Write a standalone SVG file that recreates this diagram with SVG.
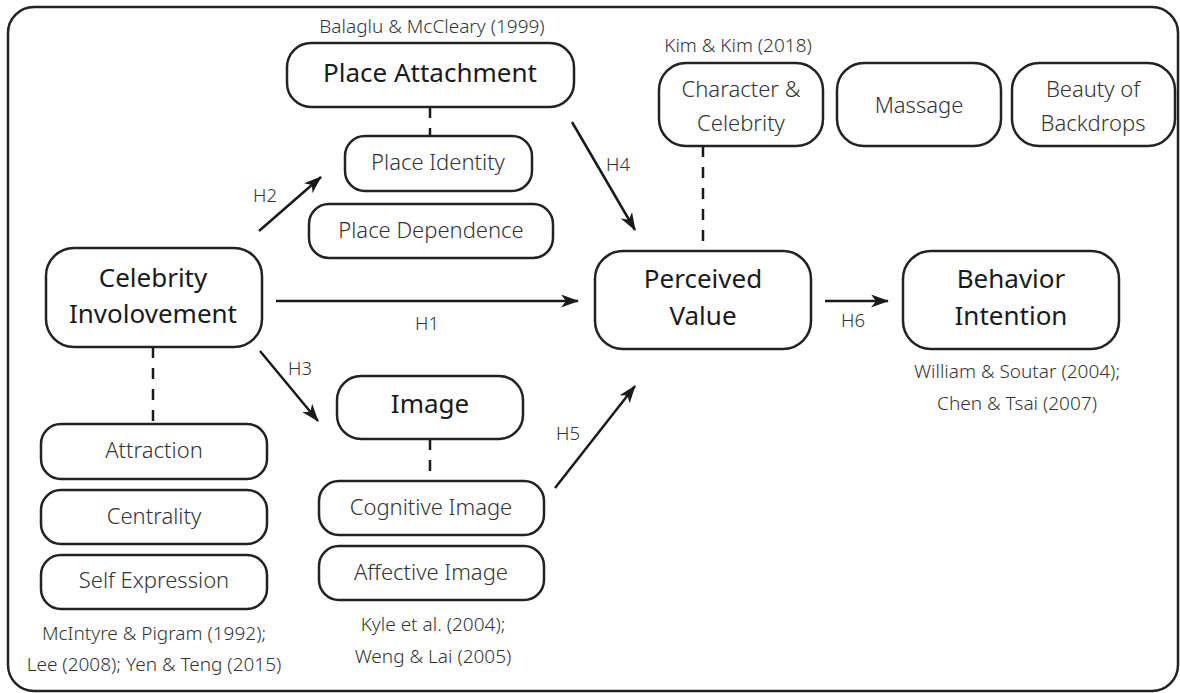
<svg xmlns="http://www.w3.org/2000/svg" width="1180" height="693" viewBox="0 0 1180 693">
<style>
.box{fill:#fff;stroke:#222;stroke-width:2.5}
.frame{fill:#fff;stroke:#222;stroke-width:2.5}
.title{font-family:"Noto Sans","Open Sans",sans-serif;font-size:26px;font-weight:450;fill:#1a1a1a;text-anchor:middle}
.label{font-family:"Noto Sans","Open Sans",sans-serif;font-size:22px;font-weight:300;fill:#333;text-anchor:middle}
.cite{font-family:"Noto Sans","Open Sans",sans-serif;font-size:19px;font-weight:300;fill:#333;text-anchor:middle}
.h{font-family:"Noto Sans","Open Sans",sans-serif;font-size:18.5px;font-weight:300;fill:#333;text-anchor:middle}
.arrow{stroke:#1a1a1a;stroke-width:2.5;fill:none;marker-end:url(#ah)}
.dash{stroke:#1a1a1a;stroke-width:2.5;fill:none;stroke-dasharray:11 10}
</style>
<defs>
<marker id="ah" viewBox="0 0 18 13" refX="17" refY="6.5" markerWidth="18" markerHeight="13" markerUnits="userSpaceOnUse" orient="auto">
<path d="M0,0 L18,6.5 L0,13 L5,6.5 z" fill="#1a1a1a"/>
</marker>
</defs>
<rect class="frame" x="8" y="7" width="1170" height="684" rx="26" ry="26"/>

<g id="connectors">
<line class="dash" x1="430" y1="107" x2="430" y2="136"/>
<line class="dash" x1="703" y1="146" x2="703" y2="251"/>
<line class="dash" x1="153" y1="347" x2="153" y2="424"/>
<line class="dash" x1="430" y1="439" x2="430" y2="481"/>
<line class="arrow" x1="276" y1="301" x2="578" y2="301"/>
<line class="arrow" x1="259" y1="231" x2="321" y2="177"/>
<line class="arrow" x1="260" y1="351" x2="318" y2="421"/>
<line class="arrow" x1="572" y1="122" x2="635" y2="230"/>
<line class="arrow" x1="555" y1="488" x2="635" y2="386"/>
<line class="arrow" x1="825" y1="301" x2="888" y2="301"/>
<text class="h" x="427" y="330">H1</text>
<text class="h" x="265" y="202">H2</text>
<text class="h" x="300" y="375">H3</text>
<text class="h" x="618" y="171">H4</text>
<text class="h" x="568" y="440">H5</text>
<text class="h" x="853" y="327">H6</text>
</g>

<g id="place-attachment">
<text class="cite" x="432" y="33">Balaglu &amp; McCleary (1999)</text>
<rect class="box" x="287" y="43" width="287" height="64" rx="24"/>
<text class="title" x="430" y="82">Place Attachment</text>
</g>
<g id="place-identity">
<rect class="box" x="345" y="136" width="187" height="55" rx="20"/>
<text class="label" x="438" y="170">Place Identity</text>
</g>
<g id="place-dependence">
<rect class="box" x="309" y="204" width="244" height="54" rx="20"/>
<text class="label" x="431" y="238">Place Dependence</text>
</g>

<g id="celebrity-involvement">
<rect class="box" x="46" y="248" width="216" height="99" rx="28"/>
<text class="title" x="153" y="287">Celebrity</text>
<text class="title" x="153" y="323">Involovement</text>
</g>
<g id="attraction">
<rect class="box" x="41" y="424" width="226" height="55" rx="20"/>
<text class="label" x="154" y="458">Attraction</text>
</g>
<g id="centrality">
<rect class="box" x="41" y="490" width="226" height="54" rx="20"/>
<text class="label" x="154" y="524">Centrality</text>
</g>
<g id="self-expression">
<rect class="box" x="41" y="555" width="226" height="54" rx="20"/>
<text class="label" x="154" y="588">Self Expression</text>
</g>
<g id="celebrity-cite">
<text class="cite" x="154" y="640">McIntyre &amp; Pigram (1992);</text>
<text class="cite" x="154" y="671">Lee (2008); Yen &amp; Teng (2015)</text>
</g>

<g id="image">
<rect class="box" x="337" y="376" width="186" height="63" rx="24"/>
<text class="title" x="430" y="413">Image</text>
</g>
<g id="cognitive-image">
<rect class="box" x="319" y="481" width="225" height="54" rx="20"/>
<text class="label" x="431" y="515">Cognitive Image</text>
</g>
<g id="affective-image">
<rect class="box" x="319" y="546" width="225" height="54" rx="20"/>
<text class="label" x="431" y="580">Affective Image</text>
</g>
<g id="image-cite">
<text class="cite" x="433" y="631">Kyle et al. (2004);</text>
<text class="cite" x="433" y="663">Weng &amp; Lai (2005)</text>
</g>

<g id="perceived-value">
<rect class="box" x="595" y="251" width="216" height="98" rx="28"/>
<text class="title" x="703" y="288">Perceived</text>
<text class="title" x="703" y="325">Value</text>
</g>
<g id="character-celebrity">
<text class="cite" x="738" y="52">Kim &amp; Kim (2018)</text>
<rect class="box" x="659" y="63" width="164" height="83" rx="27"/>
<text class="label" x="741" y="97">Character &amp;</text>
<text class="label" x="741" y="131">Celebrity</text>
</g>
<g id="massage">
<rect class="box" x="837" y="63" width="164" height="83" rx="27"/>
<text class="label" x="919" y="113">Massage</text>
</g>
<g id="beauty-of-backdrops">
<rect class="box" x="1012" y="63" width="163" height="83" rx="27"/>
<text class="label" x="1093" y="97">Beauty of</text>
<text class="label" x="1093" y="131">Backdrops</text>
</g>

<g id="behavior-intention">
<rect class="box" x="903" y="251" width="216" height="98" rx="28"/>
<text class="title" x="1011" y="288">Behavior</text>
<text class="title" x="1011" y="325">Intention</text>
<text class="cite" x="1017" y="378">William &amp; Soutar (2004);</text>
<text class="cite" x="1017" y="410">Chen &amp; Tsai (2007)</text>
</g>
</svg>
